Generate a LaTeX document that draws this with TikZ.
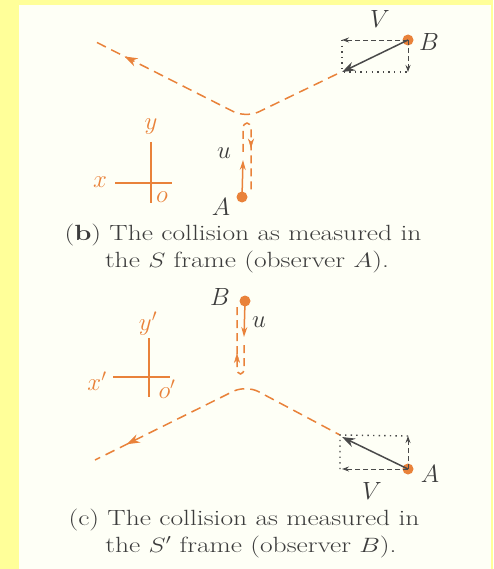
\documentclass[tikz,border=0pt]{standalone}
\usetikzlibrary{arrows.meta,decorations.markings}
\definecolor{bgyellow}{HTML}{FFFF99}
\definecolor{paper}{HTML}{FEFFF6}
\definecolor{orn}{HTML}{E9823A}
\definecolor{darkg}{HTML}{4A4A4A}
\definecolor{txt}{HTML}{3C3C3C}
\tikzset{
  oline/.style={draw=orn, line width=1.5pt},
  odash/.style={oline, dash pattern=on 10pt off 6pt},
  dotnode/.style={circle, fill=orn, inner sep=0pt, minimum size=11pt},
  midarrow/.style={postaction={decorate}, decoration={markings, mark=at position #1 with {\arrow[orn]{Stealth[length=13pt,width=9pt]}}}},
  smallarrow/.style={postaction={decorate}, decoration={markings, mark=at position #1 with {\arrow[orn]{Stealth[length=10pt,width=6pt]}}}},
  gvec/.style={draw=darkg, line width=1.5pt, -{Stealth[length=13pt,width=9pt]}},
  gdash/.style={draw=darkg, line width=0.9pt, dash pattern=on 5pt off 3pt, -{Stealth[length=7pt,width=5pt]}},
  gdot/.style={draw=darkg, line width=1.4pt, dash pattern=on 1.4pt off 4.2pt},
  lab/.style={text=txt, inner sep=0pt, font=\fontsize{26}{26}\selectfont},
  ulab/.style={text=txt, inner sep=0pt, font=\fontsize{23}{23}\selectfont},
  olab/.style={text=orn, inner sep=0pt, font=\fontsize{23}{23}\selectfont},
  axis/.style={draw=orn, line width=1.2pt},
  captext/.style={text=txt, inner sep=0pt, anchor=base, font=\fontsize{22}{24}\selectfont}
}
\begin{document}
\begin{tikzpicture}[x=1pt,y=-1pt]
\fill[bgyellow] (0,0) rectangle (493,569);
\fill[paper] (19,5) rectangle (491,569);
\useasboundingbox (0,0) rectangle (493,569);

% ---------- (b) ----------
\node[dotnode] (Bb) at (408,40) {};
\node[dotnode] (Ab) at (242,197) {};
\coordinate (b1) at (342,40);
\coordinate (b2) at (342,72);
\coordinate (b3) at (408,72);
\coordinate (bv) at (246,118);
\coordinate (bl) at (96,42);
\coordinate (br) at (337,74);
\draw[odash, rounded corners=14pt, midarrow=0.88] (br) -- (bv) -- (bl);
% vertical path of A
\draw[oline, -{Stealth[length=10pt,width=6pt]}] (Ab.center) -- (243,160);
\draw[odash, dash pattern=on 8pt off 5pt] (243,152) -- (243,129) .. controls (243,121) and (251,121) .. (251,129) -- (251,194);
\path[smallarrow=0.5] (251,137) -- (251,160);
% rectangle
\draw[gdot] (b1) -- (b2) -- (b3);
\draw[gdash] (Bb.center) -- (b1);
\draw[gdash] (Bb.center) -- (b3);
\draw[gvec] (Bb.center) -- (b2);
\node[lab] (Vb) at (380,19) {$V$};
\node[lab] (Bbl) at (429,42) {$B$};
\node[ulab] (ub) at (224,153) {$u$};
\node[lab] (Abl) at (221,207) {$A$};
% axes
\coordinate (ya1) at (151,142); \coordinate (ya2) at (151,203);
\coordinate (xa1) at (115,183); \coordinate (xa2) at (172,183);
\draw[axis] (ya1) -- (ya2);
\draw[axis] (xa1) -- (xa2);
\node[olab] (xb) at (100,182) {$x$};
\node[olab] (yb) at (151,127) {$y$};
\node[olab] (ob) at (162,197) {$o$};
\node[captext] (cb1) at (243,240) {\scalebox{1.25}[1]{(\textbf{b}) The collision as measured in}};
\node[captext] (cb2) at (247,267) {\scalebox{1.25}[1]{the $S$ frame (observer $A$).}};

% ---------- (c) ----------
\node[dotnode] (Bc) at (245,301) {};
\node[dotnode] (Ac) at (408,469) {};
\coordinate (c1) at (340,435);
\coordinate (c2) at (340,469);
\coordinate (c3) at (408,436);
\coordinate (cv) at (246,385);
\coordinate (cl) at (95,460);
\coordinate (cr) at (340,435);
\draw[odash, dash phase=5pt, rounded corners=14pt, midarrow=0.87] (cr) -- (cv) -- (cl);
% vertical path of B
\draw[oline, -{Stealth[length=10pt,width=6pt]}] (Bc.center) -- (244,337);
\draw[odash, dash pattern=on 8pt off 5pt] (244,345) -- (244,368) .. controls (244,376) and (237,376) .. (237,368) -- (237,307);
\path[smallarrow=0.5] (237,364) -- (237,342);
% rectangle
\draw[gdot] (c3) -- (c1) -- (c2);
\draw[gdash] (Ac.center) -- (342,469);
\draw[gdash] (Ac.center) -- (c3);
\draw[gvec] (Ac.center) -- (342,437);
\node[lab] (Vc) at (372,491) {$V$};
\node[lab] (Acl) at (430,474) {$A$};
\node[ulab] (uc) at (259,322) {$u$};
\node[lab] (Bcl) at (220,297) {$B$};
% axes
\coordinate (yc1) at (149,338); \coordinate (yc2) at (149,397);
\coordinate (xc1) at (113,377); \coordinate (xc2) at (170,377);
\draw[axis] (yc1) -- (yc2);
\draw[axis] (xc1) -- (xc2);
\node[olab] (xc) at (97,381) {$x'$};
\node[olab] (yc) at (148,324) {$y'$};
\node[olab] (oc) at (167,389) {$o'$};
\node[captext] (cc1t) at (244,525) {\scalebox{1.25}[1]{(c) The collision as measured in}};
\node[captext] (cc2t) at (251,552) {\scalebox{1.25}[1]{the $S'$ frame (observer $B$).}};
\end{tikzpicture}
\end{document}
